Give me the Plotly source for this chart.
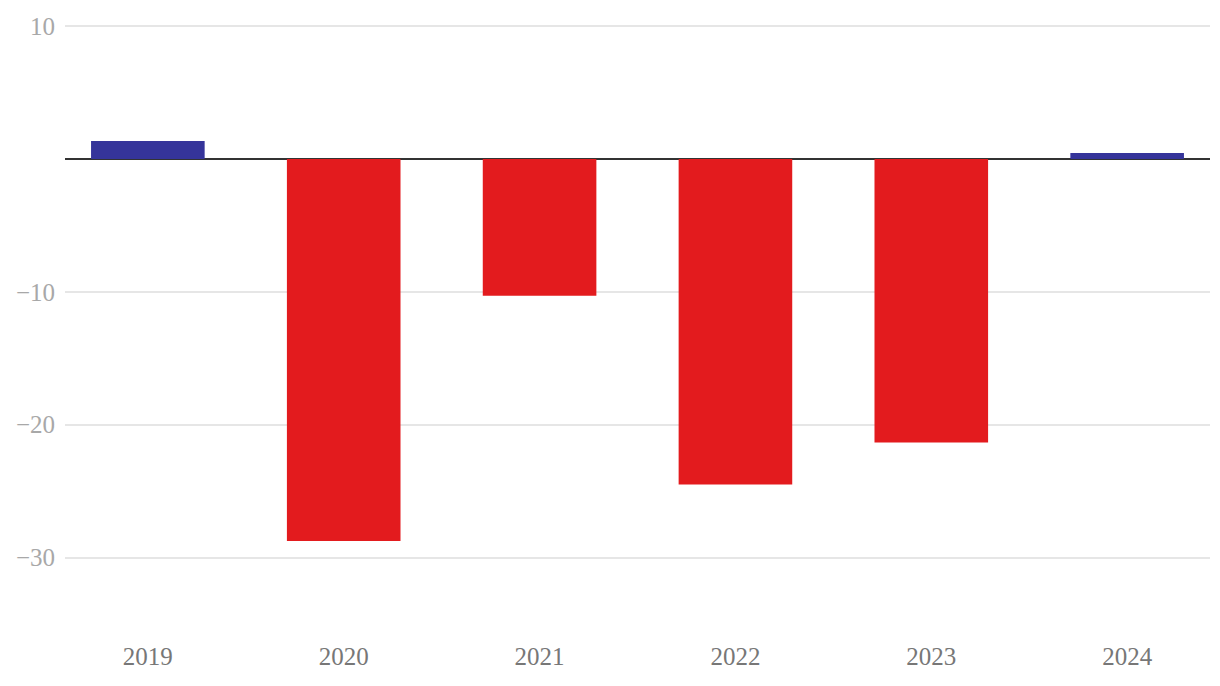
import plotly.graph_objects as go

years = ["2019", "2020", "2021", "2022", "2023", "2024"]
values = [1.35, -28.75, -10.3, -24.5, -21.35, 0.45]
blue = "#35349a"
red = "#e31b1e"
colors = [blue if v >= 0 else red for v in values]

fig = go.Figure(go.Bar(x=years, y=values, marker_color=colors, marker_line_width=0, width=0.58))

fig.update_layout(
    width=1204, height=670,
    margin=dict(l=57, r=2, t=14, b=54),
    plot_bgcolor="white", paper_bgcolor="white",
    showlegend=False,
    font=dict(family="Liberation Serif", size=25),
)
fig.update_xaxes(
    type="category", range=[-0.423, 5.423], automargin=False,
    showgrid=False, zeroline=False, showline=False,
    ticks="outside", ticklen=10, tickcolor="rgba(0,0,0,0)",
    tickfont=dict(color="#777777", size=25, family="Liberation Serif"),
)
fig.update_yaxes(
    range=[-35, 10.3], tickvals=[10, -10, -20, -30], automargin=False,
    ticktext=["10", "−10", "−20", "−30"],
    showgrid=True, gridcolor="#e6e6e6", gridwidth=1.5,
    zeroline=True, zerolinecolor="#333333", zerolinewidth=2,
    ticks="outside", ticklen=4, tickcolor="rgba(0,0,0,0)",
    tickfont=dict(color="#a8a8a8", size=25, family="Liberation Serif"),
)

fig.write_html("out.html")
